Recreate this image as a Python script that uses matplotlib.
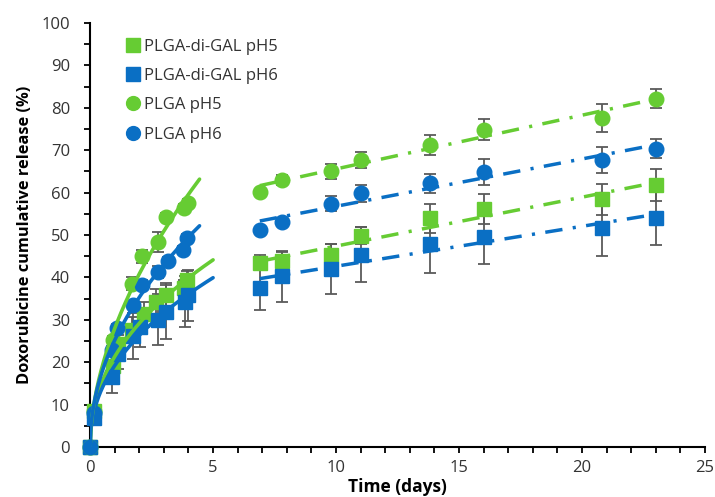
import numpy as np
import matplotlib
matplotlib.use("Agg")
import matplotlib.pyplot as plt
from matplotlib.ticker import MultipleLocator

plt.rcParams['font.family'] = ['Open Sans', 'DejaVu Sans']

# ---- release data (time in days, cumulative release in %) ----
# PLGA-di-GAL pH5
gs_t_early = [0, 0.17, 0.94, 1.15, 1.7, 2.2, 2.7, 3.1, 3.8, 3.95]
gs_y_early = [0, 8.5, 19.0, 24.4, 27.6, 31.3, 34.3, 35.8, 37.4, 39.5]
gs_e_early = [0, 1.0, 2.5, 2.0, 3.0, 3.0, 3.0, 3.0, 2.0, 2.0]
# PLGA-di-GAL pH6
bs_t_early = [0, 0.17, 0.88, 1.15, 1.75, 2.02, 2.75, 3.1, 3.85, 3.97]
bs_y_early = [0, 6.8, 16.5, 22.0, 26.2, 28.2, 30.0, 31.8, 34.3, 35.8]
bs_e_early = [0, 1.0, 3.7, 3.5, 5.5, 4.5, 6.0, 6.4, 6.0, 6.0]
# PLGA pH5
gc_t_early = [0, 0.17, 0.94, 1.7, 2.1, 2.75, 3.1, 3.8, 4.0]
gc_y_early = [0, 8.5, 25.2, 38.5, 45.0, 48.4, 54.3, 56.4, 57.5]
gc_e_early = [0, 0.5, 1.0, 1.5, 1.5, 2.4, 1.0, 1.0, 1.0]
# PLGA pH6
bc_t_early = [0, 0.17, 0.88, 1.08, 1.75, 2.1, 2.75, 3.15, 3.77, 3.95]
bc_y_early = [0, 8.0, 22.9, 28.0, 33.5, 38.2, 41.3, 43.8, 46.5, 49.2]
bc_e_early = [0, 0.5, 1.0, 1.0, 1.0, 1.2, 1.5, 1.0, 1.0, 1.0]

late_t = [6.9, 7.8, 9.8, 11.0, 13.8, 16.0, 20.8, 23.0]
gs_y_late = [43.5, 43.9, 45.3, 49.8, 53.9, 56.1, 58.4, 61.8]
gs_e_late = [1.8, 2.0, 2.7, 2.0, 3.4, 3.6, 3.6, 3.7]
bs_y_late = [37.6, 40.3, 42.0, 45.4, 47.9, 49.6, 51.6, 54.1]
bs_e_late = [5.3, 6.0, 6.0, 6.5, 6.8, 6.4, 6.5, 6.5]
gc_y_late = [60.2, 63.0, 65.0, 67.7, 71.2, 74.8, 77.5, 82.2]
gc_e_late = [0.5, 1.2, 1.7, 1.8, 2.4, 2.5, 3.3, 2.2]
bc_y_late = [51.2, 53.1, 57.4, 59.8, 62.2, 64.9, 67.7, 70.4]
bc_e_late = [0.5, 0.8, 1.8, 2.0, 2.3, 3.0, 3.0, 2.2]

labels = ["PLGA-di-GAL pH5", "PLGA-di-GAL pH6", "PLGA pH5", "PLGA pH6"]
fit_end = [5.0, 5.0, 4.45, 4.45]   # how far the early power-law trend is drawn

GREEN = "#66CC33"
BLUE = "#0A6FC4"
ERR = "#5A5A5A"

series = [
    (gs_t_early, gs_y_early, gs_e_early, gs_y_late, gs_e_late, GREEN, "s"),
    (bs_t_early, bs_y_early, bs_e_early, bs_y_late, bs_e_late, BLUE, "s"),
    (gc_t_early, gc_y_early, gc_e_early, gc_y_late, gc_e_late, GREEN, "o"),
    (bc_t_early, bc_y_early, bc_e_early, bc_y_late, bc_e_late, BLUE, "o"),
]


def power_fit(t, y):
    """Least-squares fit of y = k * t**n (through the origin)."""
    t = np.asarray(t, float)
    y = np.asarray(y, float)
    best = None
    for n in np.linspace(0.2, 1.0, 801):
        s = t ** n
        k = np.dot(s, y) / np.dot(s, s)
        r = np.sum((y - k * s) ** 2)
        if best is None or r < best[0]:
            best = (r, k, n)
    return best[1], best[2]


fig = plt.figure(figsize=(7.15, 4.97), dpi=100)
ax = fig.add_axes([0.126, 0.1006, 0.860, 0.853])

handles = []
for i, (te, ye, ee, yl, el, col, mk) in enumerate(series):
    t_all = np.array(te + late_t)
    y_all = np.array(ye + yl)
    e_all = np.array(ee + el)
    # error bars behind markers
    ax.errorbar(t_all, y_all, yerr=e_all, fmt="none", ecolor=ERR,
                elinewidth=1.3, capsize=4.5, capthick=1.3, zorder=2)
    h, = ax.plot(t_all, y_all, linestyle="none", marker=mk, markersize=10.5,
                 markerfacecolor=col, markeredgecolor=col, zorder=7 + i * 0.1,
                 label=labels[i], clip_on=False)
    handles.append(h)

    # early phase: power-law trend
    k, n = power_fit(te, ye)
    tt = np.linspace(0, fit_end[i], 200)
    ax.plot(tt, k * tt ** n, color=col, lw=2.6, zorder=8,
            solid_capstyle="round")

    # late phase: linear trend
    lt = np.array(late_t)
    a, b = np.polyfit(lt, np.array(yl), 1)
    tl = np.linspace(lt[0], lt[-1], 50)
    ax.plot(tl, a * tl + b, color=col, lw=2.5, zorder=8,
            dashes=(5, 3, 0.9, 3))

ax.set_xlim(0, 25)
ax.set_ylim(0, 100)
ax.xaxis.set_major_locator(MultipleLocator(5))
ax.xaxis.set_minor_locator(MultipleLocator(1))
ax.yaxis.set_major_locator(MultipleLocator(10))
ax.yaxis.set_minor_locator(MultipleLocator(5))
for s in ["top", "right"]:
    ax.spines[s].set_visible(False)
for s in ["left", "bottom"]:
    ax.spines[s].set_linewidth(1.5)
    ax.spines[s].set_color("black")
    ax.spines[s].set_zorder(6)
ax.tick_params(which="both", direction="out", length=4.5, width=1.3,
               color="black", labelsize=12, labelcolor="#333333")
ax.tick_params(axis="y", pad=10)
ax.tick_params(axis="x", pad=5)

ax.set_xlabel("Time (days)", fontsize=12.5, fontweight="bold", labelpad=1)
ax.set_ylabel("Doxorubicine cumulative release (%)", fontsize=11.8,
              fontweight="bold", labelpad=6)

leg = ax.legend(handles=handles, loc="upper left",
                bbox_to_anchor=(0.037, 0.995), frameon=False,
                fontsize=12, handlelength=0.8, handletextpad=0.25,
                labelspacing=0.8, markerscale=0.95, borderpad=0.3)
for t in leg.get_texts():
    t.set_color("#333333")

fig.savefig("out.png", dpi=100)
